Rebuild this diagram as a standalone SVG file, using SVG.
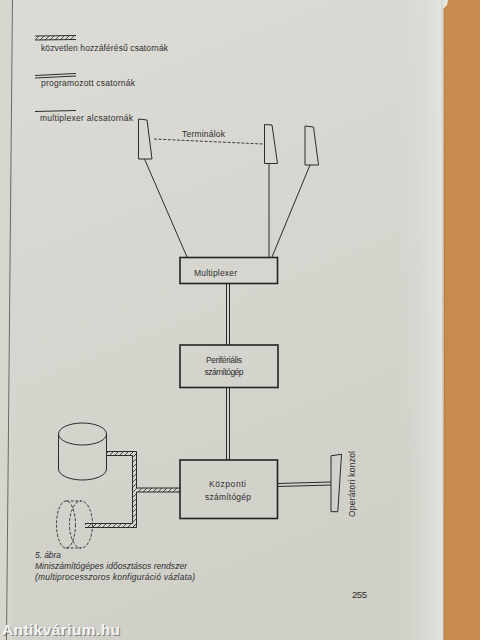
<svg xmlns="http://www.w3.org/2000/svg" width="480" height="640" viewBox="0 0 480 640">
<defs>
<linearGradient id="page" x1="0" y1="0" x2="0.3" y2="1">
<stop offset="0" stop-color="#dcdbd5"/>
<stop offset="1" stop-color="#d0cfc8"/>
</linearGradient>
<linearGradient id="edge" x1="0" y1="0" x2="1" y2="0">
<stop offset="0" stop-color="#dcdbd5" stop-opacity="0"/>
<stop offset="1" stop-color="#e6e6e1" stop-opacity="1"/>
</linearGradient>
<pattern id="hatch" patternUnits="userSpaceOnUse" width="5" height="5">
<path d="M-1,6 L6,-1 M-1,1 L1,-1 M4,6 L6,4" stroke="#2b2b2b" stroke-width="0.8"/>
</pattern>
<style>
.ink{stroke:#2b2b2b;stroke-width:1;fill:none}
.box{stroke:#232323;stroke-width:1.6;fill:none}
.term{stroke:#2b2b2b;stroke-width:1;fill:none}
.dash{stroke:#2b2b2b;stroke-width:0.9;fill:none;stroke-dasharray:3 1.6}
.lbl{font-family:"Liberation Sans",Arial,sans-serif;font-size:8.5px;fill:#2e2e2e}
.cap{font-family:"Liberation Sans",Arial,sans-serif;font-size:8.5px;font-style:italic;fill:#2e2e2e}
</style>
</defs>
<!-- background photo of page -->
<rect x="0" y="0" width="480" height="640" fill="url(#page)"/>
<rect x="0" y="0" width="12" height="640" fill="#d6d5ce"/>
<path d="M12.5,0 L6.5,640" stroke="#6a6a66" stroke-width="1"/>
<rect x="400" y="0" width="48" height="640" fill="url(#edge)"/>
<path d="M442,0 L443,640" stroke="#cdcdc7" stroke-width="1"/>
<path d="M448,0 L447,5 L444,8 L444,640 L480,640 L480,0 Z" fill="#c98a4f"/>
<path d="M444,8 L444,640" stroke="#a8703c" stroke-width="0.8"/>

<!-- legend -->
<g id="legend">
<rect x="35" y="36" width="41" height="4" fill="url(#hatch)"/>
<path class="ink" d="M35,36 L76,35.5 M35,40 L76,39.5"/>
<text class="lbl" x="41" y="51" textLength="127">közvetlen hozzáférésű csatornák</text>
<path class="ink" d="M35,75.5 L76,73.5 M35,78 L76,76"/>
<text class="lbl" x="41" y="86" textLength="94">programozott csatornák</text>
<path class="ink" d="M35,111.5 L76,110.5"/>
<text class="lbl" x="40" y="120.5" textLength="93">multiplexer alcsatornák</text>
</g>

<!-- connectors -->
<g id="connectors">
<path class="ink" d="M144.5,159 L187,257"/>
<path class="ink" d="M269,163.5 L269,257"/>
<path class="ink" d="M310,165 L272,257"/>
<path class="dash" d="M154,139 L263,144"/>
<path class="ink" d="M226.5,283.5 L226.5,345 M229.5,283.5 L229.5,345"/>
<path class="ink" d="M226.5,387.5 L226.5,460 M229.5,387.5 L229.5,460"/>
<path class="ink" d="M277,483.5 L331,482 M277,486.5 L331,485"/>
<!-- hatched direct-access channels -->
<g id="channels">
<rect x="107" y="451.5" width="30" height="4" fill="url(#hatch)"/>
<rect x="132.5" y="451.5" width="4" height="76" fill="url(#hatch)"/>
<rect x="136.5" y="488" width="43" height="4" fill="url(#hatch)"/>
<rect x="85" y="523.5" width="52" height="4" fill="url(#hatch)"/>
<path class="ink" d="M107,451.5 L136.5,451.5 L136.5,488 L180,488 M180,492 L136.5,492 L136.5,527.5 L85,527.5"/>
<path class="ink" d="M107,455.5 L132.5,455.5 L132.5,523.5 L85,523.5"/>
</g>
</g>

<!-- terminals -->
<g id="terminal1"><path class="term" d="M138.5,119 L147,120 L152,159 L138.5,159 Z"/></g>
<g id="terminal2"><path class="term" d="M264.5,124.5 L272,125 L277.5,163.5 L264.5,163.5 Z"/></g>
<g id="terminal3"><path class="term" d="M305,126 L313.5,127 L318.5,165 L305,165 Z"/></g>
<g id="terminals-label"><text class="lbl" x="182" y="137" textLength="43">Terminálok</text></g>

<!-- multiplexer -->
<g id="multiplexer">
<rect class="box" x="180" y="257.5" width="97.5" height="26"/>
<text class="lbl" x="194" y="276" textLength="43">Multiplexer</text>
</g>

<!-- peripheral computer -->
<g id="periferialis">
<rect class="box" x="180" y="345" width="98" height="42.5"/>
<text class="lbl" x="206" y="363" textLength="36">Perifériális</text>
<text class="lbl" x="204.5" y="375" textLength="39">számítógép</text>
</g>

<!-- central computer -->
<g id="kozponti">
<rect class="box" x="180" y="460" width="97.5" height="58.5"/>
<text class="lbl" x="209" y="487" textLength="37">Központi</text>
<text class="lbl" x="205" y="499.5" textLength="46">számítógép</text>
</g>

<!-- operator console -->
<g id="console">
<path class="term" d="M331,455.8 L341.5,454.3 L337.8,511.7 L331,511.7 Z"/>
<text class="lbl" transform="translate(355,517) rotate(-90)" x="0" y="0" textLength="66">Operátori konzol</text>
</g>

<!-- disk -->
<g id="disk">
<path class="term" d="M58.5,434 L58.5,469 A24,11 0 0 0 106.5,469 L106.5,434"/>
<ellipse class="term" cx="82.5" cy="434" rx="24" ry="11"/>
</g>

<!-- magnetic tape -->
<g id="tape">
<ellipse class="dash" cx="66" cy="524.5" rx="9.5" ry="23.5"/>
<ellipse class="dash" cx="81" cy="524.5" rx="11.5" ry="23.5"/>
<path class="dash" d="M66,501 L81,501 M66,548 L81,548"/>
</g>

<!-- caption -->
<g id="caption">
<text class="cap" x="35" y="558" textLength="26">5. ábra</text>
<text class="cap" x="35" y="569" textLength="152">Miniszámítógépes időosztásos rendszer</text>
<text class="cap" x="35" y="580" textLength="160">(multiprocesszoros konfiguráció vázlata)</text>
</g>
<text class="lbl" x="352" y="598" style="font-size:9.5px" textLength="15">255</text>

<!-- watermark -->
<text x="3" y="635.5" font-family="'Liberation Sans',Arial,sans-serif" font-weight="bold" font-size="15.5" fill="#4a4a48" textLength="118" opacity="0.6">Antikvárium.hu</text>
<text x="2" y="634.5" font-family="'Liberation Sans',Arial,sans-serif" font-weight="bold" font-size="15.5" fill="#f4f4f2" textLength="118">Antikvárium.hu</text>
</svg>
